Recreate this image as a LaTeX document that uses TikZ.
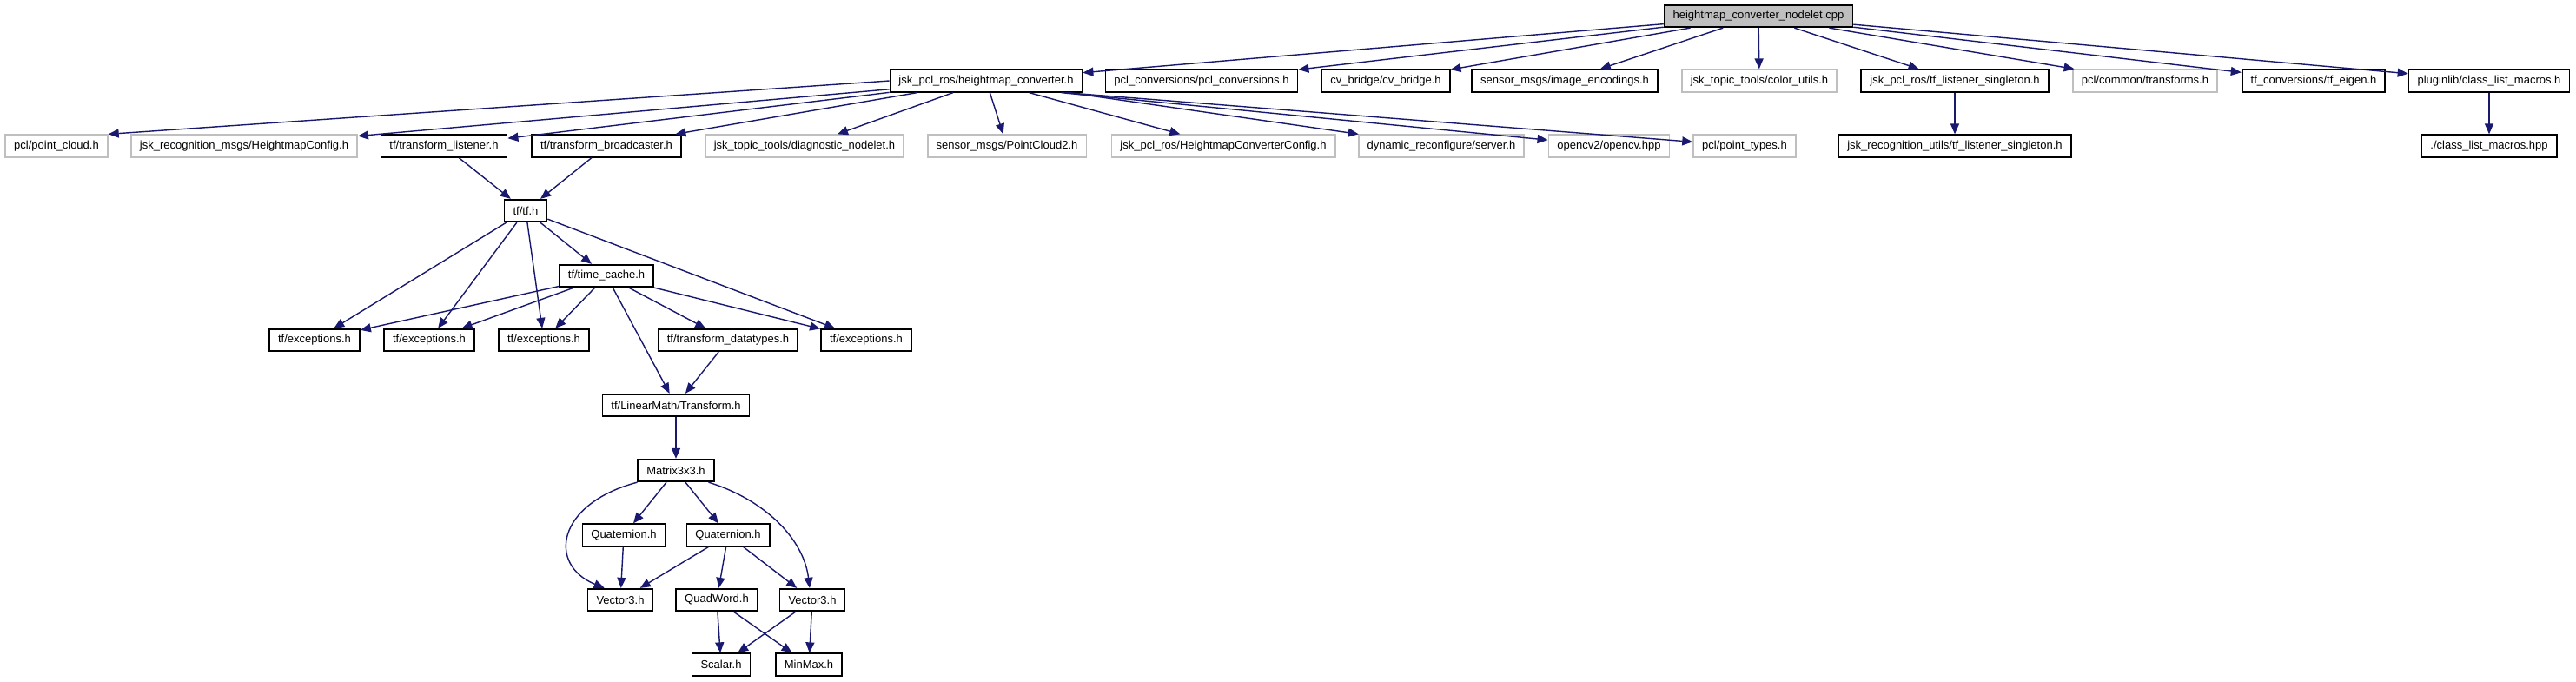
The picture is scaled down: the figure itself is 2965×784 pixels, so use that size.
\documentclass[tikz,border=0pt]{standalone}
\usepackage{fontspec}
\setmainfont{Liberation Sans}
\usepackage{tikz}
\usetikzlibrary{arrows.meta}
\definecolor{incblue}{RGB}{25,25,112}

\begin{document}
\begin{tikzpicture}[x=0.01cm, y=-0.01cm,
		every node/.style={font=\fontsize{3.7}{4.4}\selectfont, inner xsep=0.1cm, inner ysep=0pt, minimum height=0.255cm},
		hdr/.style={draw=black, line width=0.5pt, fill=white},
		ext/.style={draw=black!25, line width=0.5pt, fill=white},
		src/.style={draw=black, line width=0.5pt, fill=black!25},
		inc/.style={-{Triangle[length=0.12cm, width=0.1cm]}, draw=incblue, fill=incblue, line width=0.4pt}]
			\useasboundingbox (0,0) rectangle (2965,784);

			\node[src] (nodelet) at (2024,18.5) {heightmap\_converter\_nodelet.cpp};

			\node[hdr] (hconv) at (1135,93) {jsk\_pcl\_ros/heightmap\_converter.h};
			\node[hdr] (pclconv) at (1383,93) {pcl\_conversions/pcl\_conversions.h};
			\node[hdr] (cvbridge) at (1595,93) {cv\_bridge/cv\_bridge.h};
			\node[hdr] (imgenc) at (1801,93) {sensor\_msgs/image\_encodings.h};
			\node[ext] (colorutils) at (2025,93) {jsk\_topic\_tools/color\_utils.h};
			\node[hdr] (tflsingle) at (2250,93) {jsk\_pcl\_ros/tf\_listener\_singleton.h};
			\node[ext] (pcltrans) at (2469,93) {pcl/common/transforms.h};
			\node[hdr] (tfeigen) at (2663,93) {tf\_conversions/tf\_eigen.h};
			\node[hdr] (pluginlib) at (2865,93) {pluginlib/class\_list\_macros.h};

			\node[ext] (pointcloud) at (65,168) {pcl/point\_cloud.h};
			\node[ext] (hmconfig) at (281,168) {jsk\_recognition\_msgs/HeightmapConfig.h};
			\node[hdr] (tflisten) at (511,168) {tf/transform\_listener.h};
			\node[hdr] (tfbroad) at (698,168) {tf/transform\_broadcaster.h};
			\node[ext] (diagnodelet) at (926,168) {jsk\_topic\_tools/diagnostic\_nodelet.h};
			\node[ext] (pctwo) at (1159,168) {sensor\_msgs/PointCloud2.h};
			\node[ext] (hcconfig) at (1408,168) {jsk\_pcl\_ros/HeightmapConverterConfig.h};
			\node[ext] (dynreconf) at (1659,168) {dynamic\_reconfigure/server.h};
			\node[ext] (opencv) at (1852,168) {opencv2/opencv.hpp};
			\node[ext] (pointtypes) at (2008,168) {pcl/point\_types.h};
			\node[hdr] (jrusingle) at (2250,168) {jsk\_recognition\_utils/tf\_listener\_singleton.h};
			\node[hdr] (listmacros) at (2865,168) {./class\_list\_macros.hpp};

			\node[hdr] (tf) at (605,242.5) {tf/tf.h};
			\node[hdr] (timecache) at (698,317.5) {tf/time\_cache.h};
			\node[hdr] (exA) at (362,391.5) {tf/exceptions.h};
			\node[hdr] (exB) at (494,391.5) {tf/exceptions.h};
			\node[hdr] (exC) at (626,391.5) {tf/exceptions.h};
			\node[hdr] (datatypes) at (838,391.5) {tf/transform\_datatypes.h};
			\node[hdr] (exD) at (997,391.5) {tf/exceptions.h};
			\node[hdr] (transform) at (778,466.5) {tf/LinearMath/Transform.h};
			\node[hdr] (matrix) at (778,541.5) {Matrix3x3.h};
			\node[hdr] (quatA) at (718,616) {Quaternion.h};
			\node[hdr] (quatB) at (838,616) {Quaternion.h};
			\node[hdr] (vecA) at (714,690.5) {Vector3.h};
			\node[hdr] (quadword) at (825,690.5) {QuadWord.h};
			\node[hdr] (vecB) at (935,690.5) {Vector3.h};
			\node[hdr] (scalar) at (830,765) {Scalar.h};
			\node[hdr] (minmax) at (931,765) {MinMax.h};

			\draw[inc] (nodelet) -- (hconv);
			\draw[inc] (nodelet) -- (pclconv);
			\draw[inc] (nodelet) -- (cvbridge);
			\draw[inc] (nodelet) -- (imgenc);
			\draw[inc] (nodelet) -- (colorutils);
			\draw[inc] (nodelet) -- (tflsingle);
			\draw[inc] (nodelet) -- (pcltrans);
			\draw[inc] (nodelet) -- (tfeigen);
			\draw[inc] (nodelet) -- (pluginlib);

			\draw[inc] (hconv.west) -- (pointcloud.north east);
			\draw[inc] (hconv) -- (hmconfig);
			\draw[inc] (hconv) -- (tflisten);
			\draw[inc] (hconv) -- (tfbroad);
			\draw[inc] (hconv) -- (diagnodelet);
			\draw[inc] (hconv) -- (pctwo);
			\draw[inc] (hconv) -- (hcconfig);
			\draw[inc] (hconv) -- (dynreconf);
			\draw[inc] ([xshift=-0.25cm]hconv.south east) -- (opencv);
			\draw[inc] ([xshift=-0.2cm]hconv.south east) -- (pointtypes);

			\draw[inc] (tflsingle) -- (jrusingle);
			\draw[inc] (pluginlib) -- (listmacros);

			\draw[inc] (tflisten) -- (tf);
			\draw[inc] (tfbroad) -- (tf);
			\draw[inc] (tf) -- (exA);
			\draw[inc] (tf) -- (exB);
			\draw[inc] (tf) -- (exC);
			\draw[inc] (tf) -- (timecache);
			\draw[inc] (tf) -- (exD);
			\draw[inc] (timecache) -- (exA);
			\draw[inc] (timecache) -- (exB);
			\draw[inc] (timecache) -- (exC);
			\draw[inc] (timecache) -- (transform);
			\draw[inc] (timecache) -- (datatypes);
			\draw[inc] (timecache) -- (exD);
			\draw[inc] (datatypes) -- (transform);
			\draw[inc] (transform) -- (matrix);

			\draw[inc, fill=none] (matrix.south west) .. controls (640,580) and (630,650) .. ([xshift=0.2cm]vecA.north west);
			\draw[inc] (matrix) -- (quatA);
			\draw[inc] (matrix) -- (quatB);
			\draw[inc, fill=none] ([xshift=-0.07cm]matrix.south east) .. controls (880,575) and (925,620) .. ([xshift=-0.03cm]vecB.north);
			\draw[inc] (quatA) -- (vecA);
			\draw[inc] (quatB) -- (vecA);
			\draw[inc] (quatB) -- (quadword);
			\draw[inc] (quatB) -- (vecB);
			\draw[inc] (quadword) -- (scalar);
			\draw[inc] (quadword) -- (minmax);
			\draw[inc] (vecB) -- (scalar);
			\draw[inc] (vecB) -- (minmax);
	    	\end{tikzpicture}
\end{document}
